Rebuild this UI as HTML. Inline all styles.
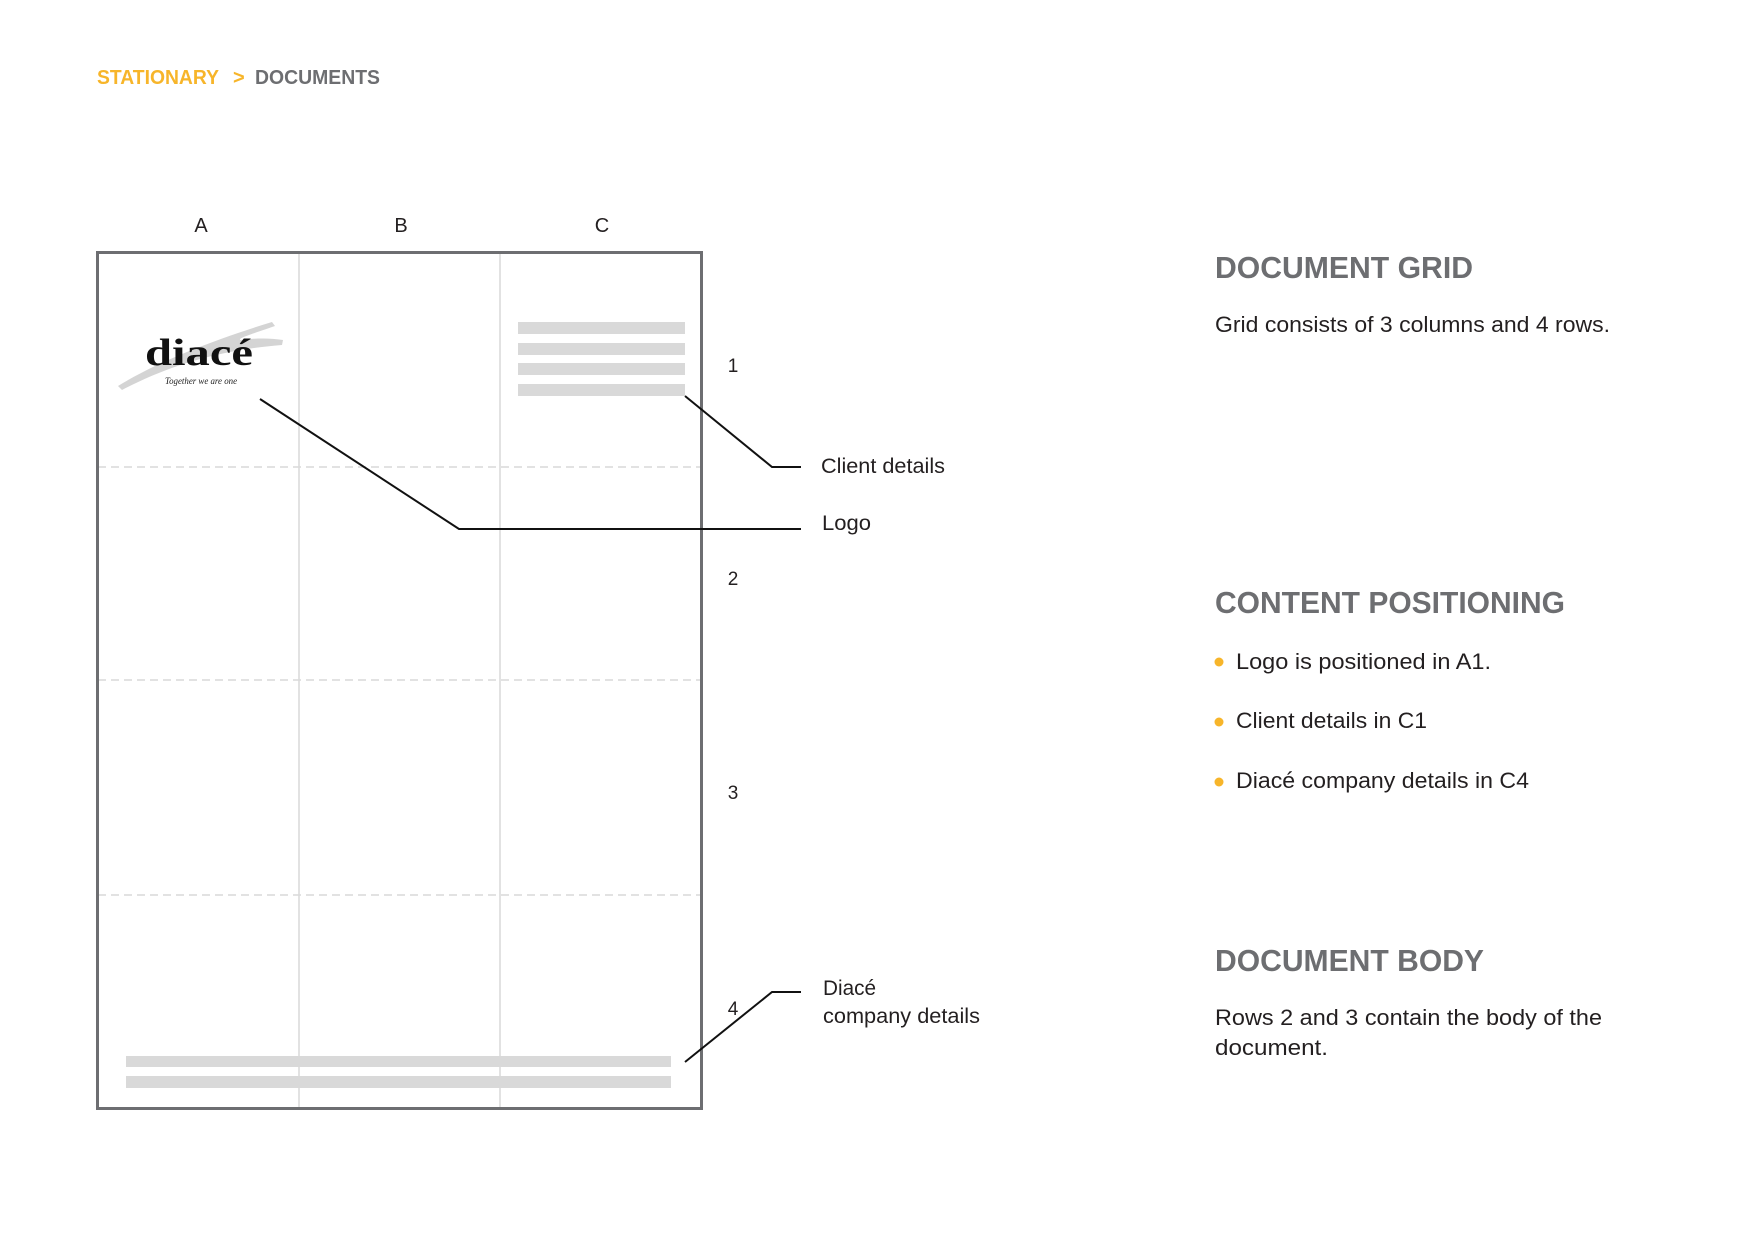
<!DOCTYPE html>
<html><head><meta charset="utf-8"><style>
html,body{margin:0;padding:0;background:#fff;}
svg{display:block;}
</style></head><body>
<svg width="1755" height="1242" viewBox="0 0 1755 1242" xmlns="http://www.w3.org/2000/svg" font-family="'Liberation Sans', sans-serif">
<!-- breadcrumb -->
<text x="97" y="84" font-size="20" font-weight="bold" fill="#f7b52a" textLength="122" lengthAdjust="spacingAndGlyphs">STATIONARY</text>
<text x="233" y="84" font-size="20" font-weight="bold" fill="#f7b52a">&gt;</text>
<text x="255" y="84" font-size="20" font-weight="bold" fill="#6d6e71" textLength="125" lengthAdjust="spacingAndGlyphs">DOCUMENTS</text>

<!-- column labels -->
<g font-size="20" fill="#231f20" text-anchor="middle">
<text x="201" y="232">A</text>
<text x="401" y="232">B</text>
<text x="602" y="232">C</text>
</g>

<!-- grid -->
<g stroke="#d9d9d9" stroke-width="1.5">
<line x1="299" y1="253" x2="299" y2="1108"/>
<line x1="500" y1="253" x2="500" y2="1108"/>
</g>
<g stroke="#d9d9d9" stroke-width="1.5" stroke-dasharray="8,5">
<line x1="98" y1="467" x2="701" y2="467"/>
<line x1="98" y1="680" x2="701" y2="680"/>
<line x1="98" y1="895" x2="701" y2="895"/>
</g>
<rect x="97.5" y="252.5" width="604" height="856" fill="none" stroke="#6d6e71" stroke-width="3"/>

<!-- client bars -->
<g fill="#d9d9d9">
<rect x="518" y="322" width="167" height="12"/>
<rect x="518" y="343" width="167" height="12"/>
<rect x="518" y="363" width="167" height="12"/>
<rect x="518" y="384" width="167" height="12"/>
<rect x="126" y="1056" width="545" height="11"/>
<rect x="126" y="1076" width="545" height="12"/>
</g>

<!-- logo -->
<path d="M118 386 C160 360 220 338 272 322 L275 326 C240 338 240 338 240 340 C255 338 270 338 283 340 L282 345 C220 350 170 365 122 390 Z" fill="#d4d4d4"/>
<text x="145" y="365" font-family="'Liberation Serif', serif" font-weight="bold" font-size="38" fill="#111" textLength="108" lengthAdjust="spacingAndGlyphs">diacé</text>
<text x="165" y="384" font-family="'Liberation Serif', serif" font-style="italic" font-size="9" fill="#222" textLength="72" lengthAdjust="spacingAndGlyphs">Together we are one</text>

<!-- row numbers -->
<g font-size="19" fill="#231f20" text-anchor="middle">
<text x="733" y="372">1</text>
<text x="733" y="585">2</text>
<text x="733" y="799">3</text>
<text x="733" y="1015">4</text>
</g>

<!-- leaders -->
<g stroke="#111" stroke-width="2" fill="none">
<polyline points="685,396 772,467 801,467"/>
<polyline points="260,399 459,529 801,529"/>
<polyline points="685,1062 772,992 801,992"/>
</g>
<g font-size="21" fill="#231f20">
<text x="821" y="473" textLength="124" lengthAdjust="spacingAndGlyphs">Client details</text>
<text x="822" y="530" textLength="49" lengthAdjust="spacingAndGlyphs">Logo</text>
<text x="823" y="995" textLength="53" lengthAdjust="spacingAndGlyphs">Diacé</text>
<text x="823" y="1023" textLength="157" lengthAdjust="spacingAndGlyphs">company details</text>
</g>

<!-- right column -->
<g font-size="31" font-weight="bold" fill="#6d6e71">
<text x="1215" y="278" textLength="258" lengthAdjust="spacingAndGlyphs">DOCUMENT GRID</text>
<text x="1215" y="613" textLength="350" lengthAdjust="spacingAndGlyphs">CONTENT POSITIONING</text>
<text x="1215" y="971" textLength="269" lengthAdjust="spacingAndGlyphs">DOCUMENT BODY</text>
</g>
<g font-size="22" fill="#231f20">
<text x="1215" y="332" textLength="395" lengthAdjust="spacingAndGlyphs">Grid consists of 3 columns and 4 rows.</text>
<text x="1236" y="669" textLength="255" lengthAdjust="spacingAndGlyphs">Logo is positioned in A1.</text>
<text x="1236" y="728" textLength="191" lengthAdjust="spacingAndGlyphs">Client details in C1</text>
<text x="1236" y="788" textLength="293" lengthAdjust="spacingAndGlyphs">Diacé company details in C4</text>
<text x="1215" y="1025" textLength="387" lengthAdjust="spacingAndGlyphs">Rows 2 and 3 contain the body of the</text>
<text x="1215" y="1055" textLength="113" lengthAdjust="spacingAndGlyphs">document.</text>
</g>
<g fill="#f7b52a">
<circle cx="1219" cy="662" r="4.5"/>
<circle cx="1219" cy="722" r="4.5"/>
<circle cx="1219" cy="782" r="4.5"/>
</g>
</svg>
</body></html>
